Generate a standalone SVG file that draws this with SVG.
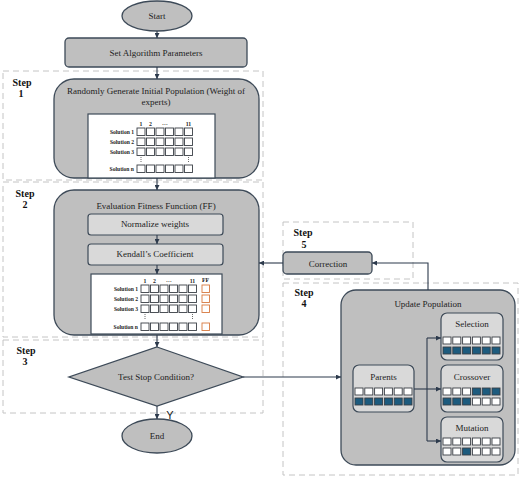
<svg xmlns="http://www.w3.org/2000/svg" width="520" height="477" viewBox="0 0 520 477">
<defs>
<marker id="arr" viewBox="0 0 6 6" refX="6" refY="3" markerWidth="5" markerHeight="5" markerUnits="userSpaceOnUse" orient="auto">
<path d="M0,0 L6,3 L0,6 z" fill="#2c3a4c"/>
</marker>
<style>
.dash{fill:none;stroke:#c4c4c4;stroke-width:1;stroke-dasharray:6,4}
.big{fill:#bfbfbf;stroke:#3d4a58;stroke-width:1.3}
.lite{fill:#d9d9d9;stroke:#3d4a58;stroke-width:1.2}
.wht{fill:#ffffff;stroke:#3d4a58;stroke-width:1.2}
.t{font-family:"Liberation Serif","Times New Roman",serif;font-size:9px;fill:#222;text-anchor:middle}
.st{font-family:"Liberation Serif","Times New Roman",serif;font-size:10px;font-weight:bold;fill:#111;text-anchor:middle}
.sl{font-family:"Liberation Serif","Times New Roman",serif;font-size:5.6px;font-weight:bold;fill:#222;text-anchor:end}
.sh{font-family:"Liberation Serif","Times New Roman",serif;font-size:5.8px;font-weight:bold;fill:#222;text-anchor:middle}
.c{fill:#fff;stroke:#3a3f46;stroke-width:0.9}
.b{fill:#1d5b7e;stroke:#3a3f46;stroke-width:0.9}
.o{fill:#fff;stroke:#d7793f;stroke-width:0.9}
.ln{fill:none;stroke:#2c3a4c;stroke-width:1.1}
.dot{stroke:#444;stroke-width:0.8;stroke-dasharray:1,1}
</style>
</defs>

<!-- step dashed frames -->
<g id="steps">
<rect class="dash" x="3" y="71" width="260" height="109"/>
<rect class="dash" x="3" y="182" width="260" height="155"/>
<rect class="dash" x="3" y="340" width="260" height="73"/>
<rect class="dash" x="283" y="222" width="130" height="57"/>
<rect class="dash" x="283" y="283" width="235" height="192"/>
<text class="st" x="22" y="86">Step</text><text class="st" x="21" y="97">1</text>
<text class="st" x="25" y="197">Step</text><text class="st" x="25" y="208">2</text>
<text class="st" x="26" y="354">Step</text><text class="st" x="25" y="365">3</text>
<text class="st" x="303" y="236">Step</text><text class="st" x="304" y="248">5</text>
<text class="st" x="304" y="296">Step</text><text class="st" x="304" y="307">4</text>
</g>

<g id="start">
<ellipse class="big" cx="157" cy="16" rx="35" ry="15"/>
<text class="t" x="157" y="19">Start</text>
</g>

<g id="params">
<rect class="big" x="65" y="38" width="182" height="29" rx="4"/>
<text class="t" x="156" y="56">Set Algorithm Parameters</text>
</g>

<g id="init">
<rect class="big" x="54" y="79" width="205" height="99" rx="20"/>
<text class="t" x="156" y="94">Randomly Generate Initial Population (Weight of</text>
<text class="t" x="156" y="105">experts)</text>
<rect class="wht" x="88" y="114" width="127" height="64"/>
<text class="sh" x="141" y="126">1</text><text class="sh" x="150.5" y="126">2</text><text class="sh" x="165" y="125">…</text><text class="sh" x="188.5" y="126">11</text>
<text class="sl" x="134" y="134">Solution 1</text>
<text class="sl" x="134" y="144">Solution 2</text>
<text class="sl" x="134" y="154">Solution 3</text>
<text class="sl" x="134" y="171">Solution n</text>
<g>
<rect class="c" x="137" y="128" width="8" height="7.5"/><rect class="c" x="146.5" y="128" width="8" height="7.5"/><rect class="c" x="156" y="128" width="8" height="7.5"/><rect class="c" x="165.5" y="128" width="8" height="7.5"/><rect class="c" x="175" y="128" width="8" height="7.5"/><rect class="c" x="184.5" y="128" width="8" height="7.5"/>
<rect class="c" x="137" y="138" width="8" height="7.5"/><rect class="c" x="146.5" y="138" width="8" height="7.5"/><rect class="c" x="156" y="138" width="8" height="7.5"/><rect class="c" x="165.5" y="138" width="8" height="7.5"/><rect class="c" x="175" y="138" width="8" height="7.5"/><rect class="c" x="184.5" y="138" width="8" height="7.5"/>
<rect class="c" x="137" y="148" width="8" height="7.5"/><rect class="c" x="146.5" y="148" width="8" height="7.5"/><rect class="c" x="156" y="148" width="8" height="7.5"/><rect class="c" x="165.5" y="148" width="8" height="7.5"/><rect class="c" x="175" y="148" width="8" height="7.5"/><rect class="c" x="184.5" y="148" width="8" height="7.5"/>
<rect class="c" x="137" y="165" width="8" height="7.5"/><rect class="c" x="146.5" y="165" width="8" height="7.5"/><rect class="c" x="156" y="165" width="8" height="7.5"/><rect class="c" x="165.5" y="165" width="8" height="7.5"/><rect class="c" x="175" y="165" width="8" height="7.5"/><rect class="c" x="184.5" y="165" width="8" height="7.5"/>
<line class="dot" x1="141" y1="157" x2="141" y2="163"/><line class="dot" x1="188.5" y1="157" x2="188.5" y2="163"/>
</g>
</g>

<g id="eval">
<rect class="big" x="54" y="190" width="205" height="145" rx="20"/>
<text class="t" x="156" y="209">Evaluation Fitness Function (FF)</text>
</g>
<g id="normalize">
<rect class="lite" x="88" y="214" width="135" height="21" rx="3"/>
<text class="t" x="155" y="227">Normalize weights</text>
</g>
<g id="kendall">
<rect class="lite" x="88" y="244" width="135" height="21" rx="3"/>
<text class="t" x="155" y="257">Kendall’s Coefficient</text>
</g>
<g id="ffgrid">
<rect class="wht" x="91" y="274" width="131" height="60"/>
<text class="sh" x="145" y="283">1</text><text class="sh" x="154.5" y="283">2</text><text class="sh" x="169" y="282">…</text><text class="sh" x="192.5" y="283">11</text><text class="sh" x="205.5" y="282">FF</text>
<text class="sl" x="138" y="291">Solution 1</text>
<text class="sl" x="138" y="301">Solution 2</text>
<text class="sl" x="138" y="311">Solution 3</text>
<text class="sl" x="138" y="329">Solution n</text>
<rect class="c" x="141" y="285" width="8" height="7.5"/><rect class="c" x="150.5" y="285" width="8" height="7.5"/><rect class="c" x="160" y="285" width="8" height="7.5"/><rect class="c" x="169.5" y="285" width="8" height="7.5"/><rect class="c" x="179" y="285" width="8" height="7.5"/><rect class="c" x="188.5" y="285" width="8" height="7.5"/><rect class="o" x="202" y="285" width="7.5" height="7.5"/>
<rect class="c" x="141" y="295" width="8" height="7.5"/><rect class="c" x="150.5" y="295" width="8" height="7.5"/><rect class="c" x="160" y="295" width="8" height="7.5"/><rect class="c" x="169.5" y="295" width="8" height="7.5"/><rect class="c" x="179" y="295" width="8" height="7.5"/><rect class="c" x="188.5" y="295" width="8" height="7.5"/><rect class="o" x="202" y="295" width="7.5" height="7.5"/>
<rect class="c" x="141" y="305" width="8" height="7.5"/><rect class="c" x="150.5" y="305" width="8" height="7.5"/><rect class="c" x="160" y="305" width="8" height="7.5"/><rect class="c" x="169.5" y="305" width="8" height="7.5"/><rect class="c" x="179" y="305" width="8" height="7.5"/><rect class="c" x="188.5" y="305" width="8" height="7.5"/><rect class="o" x="202" y="305" width="7.5" height="7.5"/>
<rect class="c" x="141" y="323" width="8" height="7.5"/><rect class="c" x="150.5" y="323" width="8" height="7.5"/><rect class="c" x="160" y="323" width="8" height="7.5"/><rect class="c" x="169.5" y="323" width="8" height="7.5"/><rect class="c" x="179" y="323" width="8" height="7.5"/><rect class="c" x="188.5" y="323" width="8" height="7.5"/><rect class="o" x="202" y="323" width="7.5" height="7.5"/>
<line class="dot" x1="145" y1="314" x2="145" y2="320"/><line class="dot" x1="192.5" y1="314" x2="192.5" y2="320"/>
</g>

<g id="stop">
<polygon class="big" points="157,347 243,377 157,406 69,377"/>
<text class="t" x="156" y="380">Test Stop Condition?</text>
</g>

<g id="end">
<ellipse class="big" cx="157" cy="436" rx="35" ry="17"/>
<text class="t" x="157" y="439">End</text>
</g>

<g id="correction">
<rect class="big" x="283" y="252" width="89" height="22" rx="4"/>
<text class="t" x="328" y="267">Correction</text>
</g>

<g id="update">
<rect class="big" x="341" y="290" width="174" height="175" rx="15"/>
<text class="t" x="428" y="307">Update Population</text>
</g>

<g id="parents">
<rect class="lite" x="353" y="365" width="61" height="47" rx="6"/>
<text class="t" x="383.5" y="380">Parents</text>
<rect class="c" x="355" y="388" width="8" height="7"/><rect class="c" x="364.8" y="388" width="8" height="7"/><rect class="c" x="374.6" y="388" width="8" height="7"/><rect class="c" x="384.4" y="388" width="8" height="7"/><rect class="c" x="394.2" y="388" width="8" height="7"/><rect class="c" x="404" y="388" width="8" height="7"/>
<rect class="b" x="355" y="398" width="8" height="7"/><rect class="b" x="364.8" y="398" width="8" height="7"/><rect class="b" x="374.6" y="398" width="8" height="7"/><rect class="b" x="384.4" y="398" width="8" height="7"/><rect class="b" x="394.2" y="398" width="8" height="7"/><rect class="b" x="404" y="398" width="8" height="7"/>
</g>

<g id="selection">
<rect class="lite" x="441" y="313" width="62" height="47" rx="6"/>
<text class="t" x="472" y="327">Selection</text>
<rect class="c" x="443" y="337" width="8" height="7"/><rect class="c" x="452.8" y="337" width="8" height="7"/><rect class="c" x="462.6" y="337" width="8" height="7"/><rect class="c" x="472.4" y="337" width="8" height="7"/><rect class="c" x="482.2" y="337" width="8" height="7"/><rect class="c" x="492" y="337" width="8" height="7"/>
<rect class="b" x="443" y="347" width="8" height="7"/><rect class="b" x="452.8" y="347" width="8" height="7"/><rect class="b" x="462.6" y="347" width="8" height="7"/><rect class="b" x="472.4" y="347" width="8" height="7"/><rect class="b" x="482.2" y="347" width="8" height="7"/><rect class="b" x="492" y="347" width="8" height="7"/>
</g>

<g id="crossover">
<rect class="lite" x="441" y="365" width="62" height="47" rx="6"/>
<text class="t" x="472" y="380">Crossover</text>
<rect class="c" x="443" y="388" width="8" height="7"/><rect class="c" x="452.8" y="388" width="8" height="7"/><rect class="c" x="462.6" y="388" width="8" height="7"/><rect class="b" x="472.4" y="388" width="8" height="7"/><rect class="b" x="482.2" y="388" width="8" height="7"/><rect class="b" x="492" y="388" width="8" height="7"/>
<rect class="b" x="443" y="398" width="8" height="7"/><rect class="b" x="452.8" y="398" width="8" height="7"/><rect class="b" x="462.6" y="398" width="8" height="7"/><rect class="c" x="472.4" y="398" width="8" height="7"/><rect class="c" x="482.2" y="398" width="8" height="7"/><rect class="c" x="492" y="398" width="8" height="7"/>
</g>

<g id="mutation">
<rect class="lite" x="441" y="417" width="62" height="45" rx="6"/>
<text class="t" x="472" y="431">Mutation</text>
<rect class="c" x="443" y="438" width="8" height="7"/><rect class="c" x="452.8" y="438" width="8" height="7"/><rect class="c" x="462.6" y="438" width="8" height="7"/><rect class="c" x="472.4" y="438" width="8" height="7"/><rect class="c" x="482.2" y="438" width="8" height="7"/><rect class="c" x="492" y="438" width="8" height="7"/>
<rect class="c" x="443" y="448" width="8" height="7"/><rect class="c" x="452.8" y="448" width="8" height="7"/><rect class="b" x="462.6" y="448" width="8" height="7"/><rect class="c" x="472.4" y="448" width="8" height="7"/><rect class="c" x="482.2" y="448" width="8" height="7"/><rect class="c" x="492" y="448" width="8" height="7"/>
</g>

<g id="connectors">
<line class="ln" x1="157" y1="31" x2="157" y2="38" marker-end="url(#arr)"/>
<line class="ln" x1="157" y1="67" x2="157" y2="79" marker-end="url(#arr)"/>
<line class="ln" x1="157" y1="178" x2="157" y2="190" marker-end="url(#arr)"/>
<line class="ln" x1="157" y1="235" x2="157" y2="244" marker-end="url(#arr)"/>
<line class="ln" x1="157" y1="265" x2="157" y2="274" marker-end="url(#arr)"/>
<line class="ln" x1="157" y1="335" x2="157" y2="347" marker-end="url(#arr)"/>
<line class="ln" x1="157" y1="406" x2="157" y2="419" marker-end="url(#arr)"/>
<text x="170" y="419" font-family="Liberation Sans, Arial, sans-serif" font-size="11" fill="#222" text-anchor="middle">Y</text>
<line class="ln" x1="243" y1="377" x2="341" y2="377" marker-end="url(#arr)"/>
<polyline class="ln" points="428,290 428,263 372,263" marker-end="url(#arr)"/>
<line class="ln" x1="283" y1="263" x2="259" y2="263" marker-end="url(#arr)"/>
<polyline class="ln" points="414,389 427,389"/>
<polyline class="ln" points="427,338 427,441"/>
<line class="ln" x1="427" y1="338" x2="441" y2="338" marker-end="url(#arr)"/>
<line class="ln" x1="427" y1="389" x2="441" y2="389" marker-end="url(#arr)"/>
<line class="ln" x1="427" y1="441" x2="441" y2="441" marker-end="url(#arr)"/>
</g>
</svg>
